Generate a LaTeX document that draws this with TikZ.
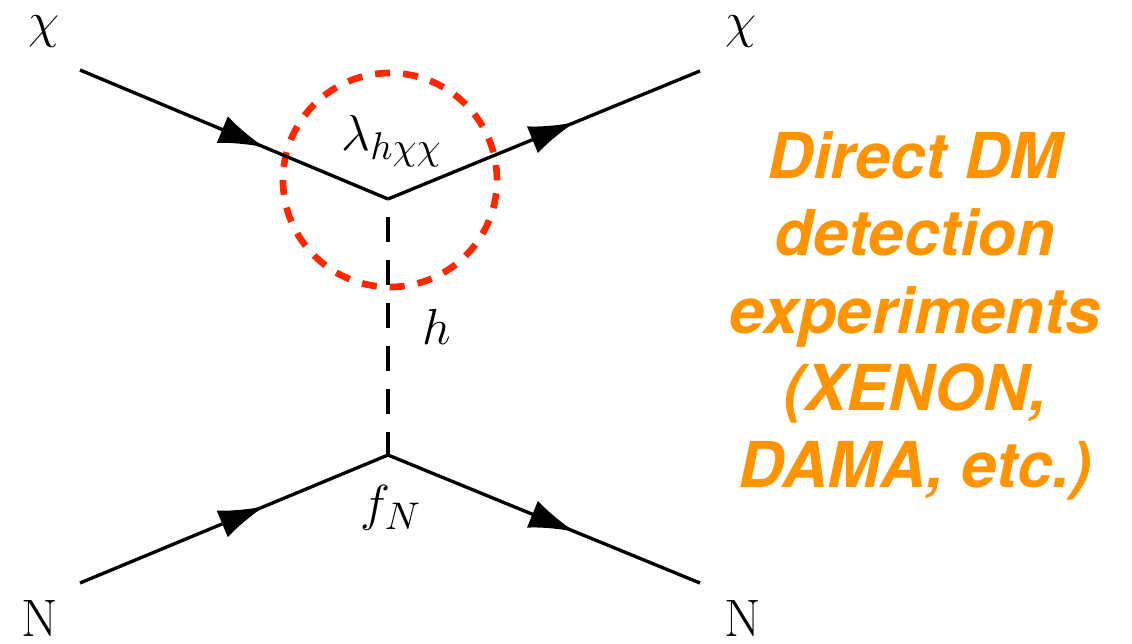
\documentclass[tikz,border=0pt]{standalone}
\usepackage{fontspec}
\newfontfamily\expfont{TeX Gyre Heros}
\usetikzlibrary{arrows.meta, decorations.markings}
\definecolor{dmorange}{RGB}{255,147,0}
\definecolor{dmred}{RGB}{255,38,0}

\begin{document}
\begin{tikzpicture}[>=Latex,
      fermion/.style={line width=0.95pt, postaction={decorate},
                      decoration={markings, mark=at position 0.6 with
                        {\arrow{Latex[length=0.46cm, width=0.29cm]}}}},
      scalar/.style={line width=0.95pt, dash pattern=on 0.25cm off 0.18cm,
                     dash phase=0.25cm},
      lbl/.style={font=\fontsize{15}{18}\selectfont, inner sep=0pt},
      blob/.style={circle, draw=dmred, line width=1.9pt, minimum size=2.14cm,
                   inner sep=0pt, dash pattern=on 0.15cm off 0.13cm},
      note/.style={font=\expfont\bfseries\itshape\fontsize{18}{22}\selectfont,
                   text=dmorange, align=center}]
    \useasboundingbox (0,0) rectangle (11.32,6.43);
    \coordinate (chiin)  at (0.80,5.73);
    \coordinate (chiout) at (7.00,5.72);
    \coordinate (vtop)   at (3.88,4.44);
    \coordinate (vbot)   at (3.88,1.88);
    \coordinate (nin)    at (0.80,0.60);
    \coordinate (nout)   at (7.00,0.60);
    \node[lbl] (chiinl)  at (0.44,6.11) {$\chi$};
    \node[lbl] (chioutl) at (7.41,6.11) {$\chi$};
    \node[lbl] (ninl)    at (0.40,0.25) {N};
    \node[lbl] (noutl)   at (7.43,0.25) {N};
    \node[lbl] (coup)    at (3.92,5.02) {$\lambda_{h\chi\chi}$};
    \node[lbl] (higgs)   at (4.37,3.16) {$h$};
    \node[lbl] (form)    at (3.91,1.35) {$f_N$};
    \node[blob] (loop)   at (3.90,4.63) {};
    \node[note] (expts)  at (9.15,3.27) {Direct DM\\detection\\experiments\\(XENON,\\DAMA, etc.)};
    % lines
    \draw[fermion] (chiin) -- (vtop);
    \draw[fermion] (vtop) -- (chiout);
    \draw[scalar]  (vtop) -- (vbot);
    \draw[fermion] (nin) -- (vbot);
    \draw[fermion] (vbot) -- (nout);
\end{tikzpicture}
\end{document}
